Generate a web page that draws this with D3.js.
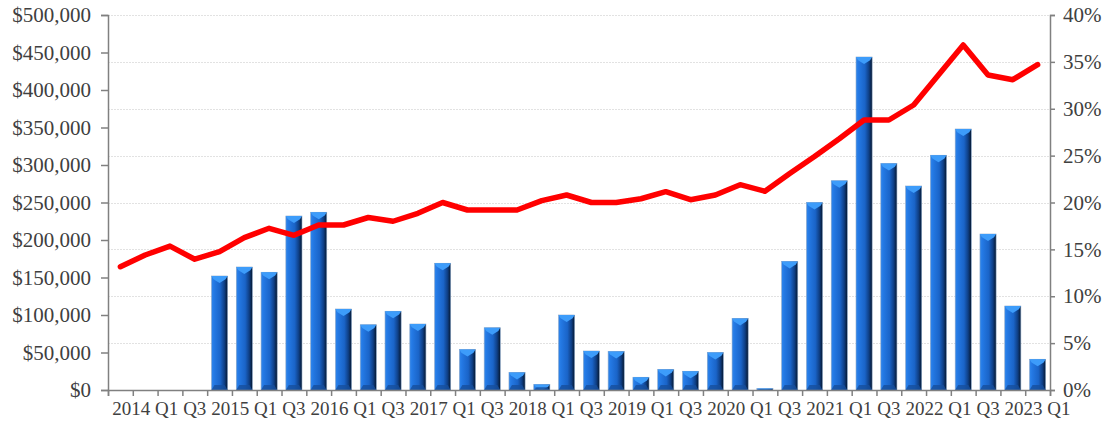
<!DOCTYPE html>
<html>
<head>
<meta charset="utf-8">
<script src="https://cdn.jsdelivr.net/npm/d3@7"></script>
<style>
  html, body { margin: 0; padding: 0; background: #fff; }
  svg text { font-family: "Liberation Serif", "Times New Roman", serif; fill: #404040; }
</style>
</head>
<body>
<div id="chart"></div>
<script>
// quarters from 2013 Q4 to 2023 Q1
var quarters = ["2013 Q4",
  "2014 Q1","2014 Q2","2014 Q3","2014 Q4",
  "2015 Q1","2015 Q2","2015 Q3","2015 Q4",
  "2016 Q1","2016 Q2","2016 Q3","2016 Q4",
  "2017 Q1","2017 Q2","2017 Q3","2017 Q4",
  "2018 Q1","2018 Q2","2018 Q3","2018 Q4",
  "2019 Q1","2019 Q2","2019 Q3","2019 Q4",
  "2020 Q1","2020 Q2","2020 Q3","2020 Q4",
  "2021 Q1","2021 Q2","2021 Q3","2021 Q4",
  "2022 Q1","2022 Q2","2022 Q3","2022 Q4",
  "2023 Q1"];

// one label on every second quarter (2014 Q1, 2014 Q3, ...)
var xTickLabels = ["2014 Q1","Q3","2015 Q1","Q3","2016 Q1","Q3","2017 Q1","Q3",
  "2018 Q1","Q3","2019 Q1","Q3","2020 Q1","Q3","2021 Q1","Q3","2022 Q1","Q3","2023 Q1"];

// bars, left axis ($)
var amounts = [0, 0, 0, 0, 152000, 164000, 157000, 232000, 237000,
  108000, 87000, 105000, 88000, 169000, 54000, 83000, 23500, 7500, 100000,
  52000, 51500, 17000, 27500, 25000, 50000, 95500, 2000, 171500, 250000,
  279000, 444000, 302000, 272000, 313000, 348000, 208000, 112000, 41000];

// line, right axis (%)
var shares = [13.15, 14.4, 15.35, 13.95, 14.75, 16.25, 17.25, 16.5, 17.6, 17.6,
  18.4, 18.0, 18.85, 20.0, 19.2, 19.2, 19.2, 20.2, 20.8, 20.0,
  20.0, 20.4, 21.15, 20.3, 20.8, 21.9, 21.2, 23.1, 24.9, 26.8,
  28.8, 28.8, 30.4, 33.6, 36.8, 33.6, 33.1, 34.7];

var leftTicks = [0, 50000, 100000, 150000, 200000, 250000, 300000, 350000, 400000, 450000, 500000];
var rightTicks = [0, 5, 10, 15, 20, 25, 30, 35, 40];

var width = 1112, height = 423;
var margin = {top: 15, right: 62, bottom: 33, left: 108};
var x0 = margin.left, x1 = width - margin.right;
var y0 = height - margin.bottom, y1 = margin.top;

var svg = d3.select('#chart').append('svg')
  .attr('width', width)
  .attr('height', height);

var defs = svg.append('defs');
var grad = defs.append('linearGradient')
  .attr('id', 'barGrad')
  .attr('x1', '0%').attr('x2', '100%').attr('y1', '0%').attr('y2', '0%');
grad.append('stop').attr('offset', '0%').attr('stop-color', '#2f86ec');
grad.append('stop').attr('offset', '15%').attr('stop-color', '#2479e4');
grad.append('stop').attr('offset', '55%').attr('stop-color', '#1a64c8');
grad.append('stop').attr('offset', '80%').attr('stop-color', '#0f3f85');
grad.append('stop').attr('offset', '100%').attr('stop-color', '#05172f');

var x = d3.scaleBand()
  .domain(quarters)
  .range([x0, x1])
  .paddingInner(0.35)
  .paddingOuter(0.175);

var xi = d3.scaleLinear().domain([0, quarters.length]).range([x0, x1]);
var yL = d3.scaleLinear().domain([0, 500000]).range([y0, y1]);
var yR = d3.scaleLinear().domain([0, 40]).range([y0, y1]);

// gridlines follow the right axis
svg.append('g')
  .selectAll('line')
  .data(rightTicks.filter(function(d) { return d > 0; }))
  .enter()
  .append('line')
  .attr('x1', x0).attr('x2', x1)
  .attr('y1', function(d) { return Math.round(yR(d)) + 0.5; })
  .attr('y2', function(d) { return Math.round(yR(d)) + 0.5; })
  .attr('stroke', '#e2e2e2')
  .attr('stroke-width', 1)
  .attr('stroke-dasharray', '2,1');

// bars
var bars = svg.append('g')
  .selectAll('g')
  .data(quarters.map(function(q, i) { return {q: q, v: amounts[i]}; }).filter(function(d) { return d.v > 0; }))
  .enter()
  .append('g');

bars.append('rect')
  .attr('x', function(d) { return x(d.q); })
  .attr('y', function(d) { return yL(d.v); })
  .attr('width', x.bandwidth())
  .attr('height', function(d) { return y0 - yL(d.v); })
  .attr('fill', 'url(#barGrad)')
  .attr('stroke', '#8aa6c8')
  .attr('stroke-width', 0.6);

// top bevel
bars.append('path')
  .attr('d', function(d) {
    var bx = x(d.q), bw = x.bandwidth(), by = yL(d.v);
    var h = Math.min(7, y0 - by);
    return 'M' + bx + ',' + by + 'L' + (bx + bw) + ',' + by +
      'L' + (bx + bw - 2) + ',' + (by + h * 0.45) +
      'L' + (bx + bw / 2) + ',' + (by + h) +
      'L' + (bx + 2) + ',' + (by + h * 0.45) + 'Z';
  })
  .attr('fill', '#3d9cfa');

// bottom bevel
bars.append('path')
  .attr('d', function(d) {
    var bx = x(d.q), bw = x.bandwidth(), by = yL(d.v);
    var h = Math.min(5, (y0 - by) / 2);
    return 'M' + bx + ',' + y0 + 'L' + (bx + bw) + ',' + y0 +
      'L' + (bx + bw - 3) + ',' + (y0 - h) +
      'L' + (bx + 3) + ',' + (y0 - h) + 'Z';
  })
  .attr('fill', '#174f9c')
  .attr('opacity', 0.8);

// line
var line = d3.line()
  .x(function(d, i) { return x(quarters[i]) + x.bandwidth() / 2; })
  .y(function(d) { return yR(d); });

svg.append('path')
  .datum(shares)
  .attr('d', line)
  .attr('fill', 'none')
  .attr('stroke', '#ff0000')
  .attr('stroke-width', 5.5)
  .attr('stroke-linejoin', 'round')
  .attr('stroke-linecap', 'round');

// left axis
var leftAxis = svg.append('g')
  .attr('transform', 'translate(' + x0 + ',0)')
  .call(d3.axisLeft(yL).tickValues(leftTicks).tickSize(7).tickPadding(10)
    .tickFormat(function(d) { return '$' + d3.format(',')(d); }));
leftAxis.selectAll('text').style('font-size', '21px');

// right axis
var rightAxis = svg.append('g')
  .attr('transform', 'translate(' + x1 + ',0)')
  .call(d3.axisRight(yR).tickValues(rightTicks).tickSize(5).tickPadding(8)
    .tickFormat(function(d) { return d + '%'; }));
rightAxis.selectAll('text').style('font-size', '21px');

// bottom axis: tick marks between quarters
svg.append('g')
  .attr('transform', 'translate(0,' + y0 + ')')
  .call(d3.axisBottom(xi).tickValues(d3.range(quarters.length + 1)).tickSize(6).tickFormat(''));

// bottom labels
var labelled = quarters.filter(function(q, i) { return i % 2 === 1; });
var bottomLabels = svg.append('g')
  .attr('transform', 'translate(0,' + y0 + ')')
  .call(d3.axisBottom(x).tickValues(labelled).tickSize(0).tickPadding(12)
    .tickFormat(function(d, i) { return xTickLabels[i]; }));
bottomLabels.select('.domain').remove();
bottomLabels.selectAll('text').style('font-size', '19px');

svg.selectAll('.domain, .tick line').attr('stroke', '#808080').attr('stroke-width', 1.5);
</script>
</body>
</html>
